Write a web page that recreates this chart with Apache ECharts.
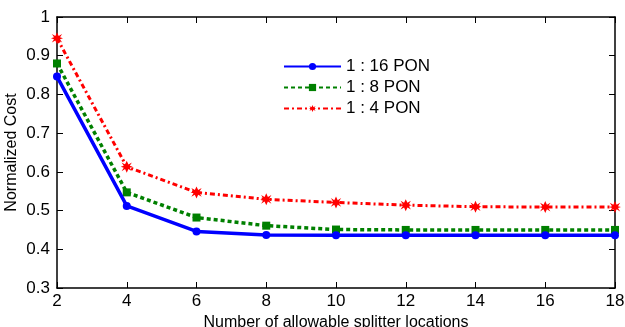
<!DOCTYPE html>
<html>
<head>
<meta charset="utf-8">
<script src="https://cdn.jsdelivr.net/npm/echarts@6/dist/echarts.min.js"></script>
<style>
  html, body { margin: 0; padding: 0; background: #fff; }
  #chart { width: 625px; height: 327px; }
</style>
</head>
<body>
<div id="chart"></div>
<script>
const locations = [2, 4, 6, 8, 10, 12, 14, 16, 18];
const pon16 = [0.846, 0.512, 0.446, 0.437, 0.436, 0.436, 0.436, 0.436, 0.436];
const pon8 = [0.880, 0.547, 0.482, 0.461, 0.451, 0.450, 0.450, 0.450, 0.450];
const pon4 = [0.945, 0.613, 0.547, 0.529, 0.521, 0.514, 0.510, 0.509, 0.509];
const seriesNames = ['1 : 16 PON', '1 : 8 PON', '1 : 4 PON'];

const font = 'Liberation Sans, Arial, Helvetica, sans-serif';
// chunky asterisk marker like matlab's '*'
const starPath = 'path://M5,0 L6.4,3.1 L9.3,1.4 L7.5,4.2 L10,5 L7.5,5.8 L9.3,8.6 L6.4,6.9 L5,10 L3.6,6.9 L0.7,8.6 L2.5,5.8 L0,5 L2.5,4.2 L0.7,1.4 L3.6,3.1 Z';

const pair = (ys) => locations.map((x, i) => [x, ys[i]]);

const chart = echarts.init(document.getElementById('chart'));

const axisLine = { show: true, lineStyle: { color: '#000', width: 1.5 } };
const tickIn = { show: true, inside: true, length: 6, lineStyle: { color: '#000', width: 1 } };

chart.setOption({
  animation: false,
  backgroundColor: '#fff',
  grid: { left: 57, right: 10, top: 17, bottom: 39, outerBoundsMode: 'none', containLabel: false },
  legend: {
    orient: 'vertical',
    left: 278,
    top: 53,
    itemWidth: 57,
    itemHeight: 9,
    itemGap: 4,
    data: seriesNames,
    textStyle: { fontFamily: font, fontSize: 17, color: '#000' }
  },
  xAxis: [
    {
      type: 'value', min: 2, max: 18, interval: 2,
      axisLine: axisLine, axisTick: tickIn, splitLine: { show: false },
      axisLabel: { fontFamily: font, fontSize: 17, color: '#000', margin: 5 },
      name: 'Number of allowable splitter locations',
      nameLocation: 'middle', nameGap: 22,
      nameTextStyle: { fontFamily: font, fontSize: 16, color: '#000' }
    },
    {
      type: 'value', position: 'top', min: 2, max: 18, interval: 2,
      axisLine: axisLine, axisTick: tickIn, axisLabel: { show: false }, splitLine: { show: false }
    }
  ],
  yAxis: [
    {
      type: 'value', min: 0.3, max: 1, interval: 0.1,
      axisLine: axisLine, axisTick: tickIn, splitLine: { show: false },
      axisLabel: { fontFamily: font, fontSize: 17, color: '#000', margin: 7,
        formatter: (v) => +v.toFixed(1) + '' },
      name: 'Normalized Cost', nameLocation: 'middle', nameGap: 37, nameMoveOverlap: false,
      nameTextStyle: { fontFamily: font, fontSize: 16, color: '#000' }
    },
    {
      type: 'value', position: 'right', min: 0.3, max: 1, interval: 0.1,
      axisLine: axisLine, axisTick: tickIn, axisLabel: { show: false }, splitLine: { show: false }
    }
  ],
  series: [
    {
      name: seriesNames[0], type: 'line', data: pair(pon16),
      symbol: 'circle', symbolSize: 8,
      lineStyle: { color: '#0000ff', width: 3.5, type: 'solid' },
      itemStyle: { color: '#0000ff' }, z: 4
    },
    {
      name: seriesNames[1], type: 'line', data: pair(pon8),
      symbol: 'rect', symbolSize: 8,
      lineStyle: { color: '#008000', width: 3.5, type: [4, 3] },
      itemStyle: { color: '#008000' }, z: 3
    },
    {
      name: seriesNames[2], type: 'line', data: pair(pon4),
      symbol: starPath, symbolSize: 12,
      lineStyle: { color: '#ff0000', width: 3, type: [5, 3, 2, 3] },
      itemStyle: { color: '#ff0000' }, z: 2
    }
  ]
});
</script>
</body>
</html>
